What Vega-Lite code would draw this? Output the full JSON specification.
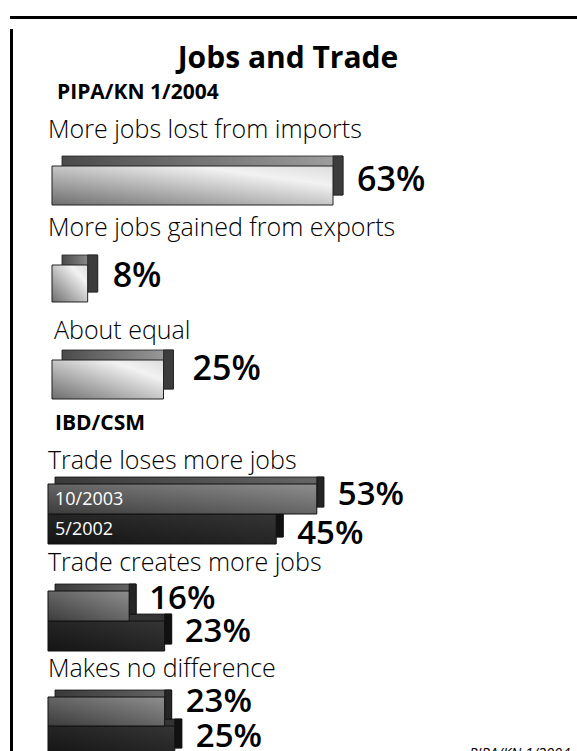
{
  "$schema": "https://vega.github.io/schema/vega-lite/v6.json",
  "padding": {"left": 10, "top": 11, "right": 0, "bottom": 0},
  "background": "white",
  "config": {"font": "Open Sans", "view": {"stroke": null}, "title": {"color": "black", "font": "Open Sans"}},
  "spacing": 0,
  "vconcat": [
    {
      "width": 567, "height": 3,
      "view": {"fill": "black", "stroke": null},
      "data": {"values": [{}]},
      "mark": {"type": "text"},
      "encoding": {"text": {"value": ""}}
    },
    {
      "spacing": 0,
      "hconcat": [
        {
          "width": 3, "height": 731,
          "view": {"fill": "black", "stroke": null},
          "data": {"values": [{}]},
          "mark": {"type": "text"},
          "encoding": {"text": {"value": ""}}
        },
        {
          "spacing": 8,
          "vconcat": [
            {
              "width": 530, "height": 0.1,
              "data": {"values": [{}]},
              "mark": {"type": "text"},
              "encoding": {"text": {"value": ""}}
            },
            {
              "title": {"text": "Jobs and Trade", "anchor": "middle", "fontSize": 30, "fontWeight": "bold", "dx": -7, "offset": 8},
              "spacing": 12,
              "vconcat": [
                {
                  "title": {"text": "PIPA/KN 1/2004", "anchor": "start", "fontSize": 21, "fontWeight": "bold", "dx": 44, "offset": 15},
                  "spacing": 9,
                  "vconcat": [
                    {
                      "title": {"text": "More jobs lost from imports", "anchor": "start", "fontSize": 25, "fontWeight": 300, "dx": 35, "offset": 13},
                      "width": 564, "height": 39,
                      "data": {"values": [{"series": "1/2004", "value": 63}]},
                      "encoding": {
                        "y": {"field": "series", "type": "nominal", "axis": null, "scale": {"paddingInner": 0, "paddingOuter": 0}},
                        "x": {"field": "value", "type": "quantitative", "axis": null, "scale": {"domain": [-8.74, 117.7]}}
                      },
                      "layer": [
                        {"mark": {"type": "bar", "xOffset": 10, "x2Offset": 10, "yOffset": -10, "y2Offset": -10, "stroke": "#222", "strokeWidth": 0.8, "color": {"gradient": "linear", "x1": 0, "y1": 0, "x2": 1, "y2": 0, "stops": [{"offset": 0, "color": "#4a4a4a"}, {"offset": 1, "color": "#a0a0a0"}]}}},
                        {"mark": {"type": "bar", "x2Offset": 10, "yOffset": -10, "y2Offset": -10, "color": "#3c3c3c", "stroke": "#222", "strokeWidth": 0.8}, "encoding": {"x2": {"field": "value"}}},
                        {"mark": {"type": "bar", "stroke": "#222", "strokeWidth": 1, "color": {"gradient": "linear", "x1": 0, "y1": 1, "x2": 1, "y2": 0, "stops": [{"offset": 0, "color": "#6e6e6e"}, {"offset": 0.75, "color": "#f2f2f2"}, {"offset": 1, "color": "#dcdcdc"}]}}},
                        {"mark": {"type": "text", "align": "left", "baseline": "middle", "dx": 24, "dy": -5, "fontSize": 34, "fontWeight": 600, "color": "black", "text": {"expr": "datum.value + '%'"}}}
                      ]
                    },
                    {
                      "title": {"text": "More jobs gained from exports", "anchor": "start", "fontSize": 25, "fontWeight": 300, "dx": 35, "offset": 14},
                      "width": 564, "height": 44,
                      "data": {"values": [{"series": "1/2004", "value": 8}]},
                      "encoding": {
                        "y": {"field": "series", "type": "nominal", "axis": null, "scale": {"paddingInner": 0, "paddingOuter": 0.0946, "align": 0}},
                        "x": {"field": "value", "type": "quantitative", "axis": null, "scale": {"domain": [-8.74, 117.7]}}
                      },
                      "layer": [
                        {"mark": {"type": "bar", "xOffset": 10, "x2Offset": 10, "yOffset": -10, "y2Offset": -10, "stroke": "#222", "strokeWidth": 0.8, "color": {"gradient": "linear", "x1": 0, "y1": 0, "x2": 1, "y2": 0, "stops": [{"offset": 0, "color": "#4a4a4a"}, {"offset": 1, "color": "#a0a0a0"}]}}},
                        {"mark": {"type": "bar", "x2Offset": 10, "yOffset": -10, "y2Offset": -10, "color": "#3c3c3c", "stroke": "#222", "strokeWidth": 0.8}, "encoding": {"x2": {"field": "value"}}},
                        {"mark": {"type": "bar", "stroke": "#222", "strokeWidth": 1, "color": {"gradient": "linear", "x1": 0, "y1": 1, "x2": 1, "y2": 0, "stops": [{"offset": 0, "color": "#6e6e6e"}, {"offset": 0.75, "color": "#f2f2f2"}, {"offset": 1, "color": "#dcdcdc"}]}}},
                        {"mark": {"type": "text", "align": "left", "baseline": "middle", "dx": 25, "dy": -6, "fontSize": 34, "fontWeight": 600, "color": "black", "text": {"expr": "datum.value + '%'"}}}
                      ]
                    },
                    {
                      "title": {"text": "About equal", "anchor": "start", "fontSize": 25, "fontWeight": 300, "dx": 41, "offset": 6},
                      "width": 564, "height": 39,
                      "data": {"values": [{"series": "1/2004", "value": 25}]},
                      "encoding": {
                        "y": {"field": "series", "type": "nominal", "axis": null, "scale": {"paddingInner": 0, "paddingOuter": 0}},
                        "x": {"field": "value", "type": "quantitative", "axis": null, "scale": {"domain": [-8.74, 117.7]}}
                      },
                      "layer": [
                        {"mark": {"type": "bar", "xOffset": 10, "x2Offset": 10, "yOffset": -10, "y2Offset": -10, "stroke": "#222", "strokeWidth": 0.8, "color": {"gradient": "linear", "x1": 0, "y1": 0, "x2": 1, "y2": 0, "stops": [{"offset": 0, "color": "#4a4a4a"}, {"offset": 1, "color": "#a0a0a0"}]}}},
                        {"mark": {"type": "bar", "x2Offset": 10, "yOffset": -10, "y2Offset": -10, "color": "#3c3c3c", "stroke": "#222", "strokeWidth": 0.8}, "encoding": {"x2": {"field": "value"}}},
                        {"mark": {"type": "bar", "stroke": "#222", "strokeWidth": 1, "color": {"gradient": "linear", "x1": 0, "y1": 1, "x2": 1, "y2": 0, "stops": [{"offset": 0, "color": "#6e6e6e"}, {"offset": 0.75, "color": "#f2f2f2"}, {"offset": 1, "color": "#dcdcdc"}]}}},
                        {"mark": {"type": "text", "align": "left", "baseline": "middle", "dx": 29, "dy": -10, "fontSize": 34, "fontWeight": 600, "color": "black", "text": {"expr": "datum.value + '%'"}}}
                      ]
                    }
                  ]
                },
                {
                  "title": {"text": "IBD/CSM", "anchor": "start", "fontSize": 21, "fontWeight": "bold", "dx": 42, "offset": 15},
                  "spacing": 0,
                  "vconcat": [
                    {
                      "title": {"text": "Trade loses more jobs", "anchor": "start", "fontSize": 25, "fontWeight": 300, "dx": 35, "offset": 3},
                      "width": 564, "height": 60,
                      "data": {"values": [{"series": "10/2003", "value": 53}, {"series": "5/2002", "value": 45}]},
                      "encoding": {
                        "y": {"field": "series", "type": "nominal", "axis": null, "sort": ["10/2003", "5/2002"], "scale": {"paddingInner": 0, "paddingOuter": 0}},
                        "x": {"field": "value", "type": "quantitative", "axis": null, "scale": {"domain": [-6.9, 104.3]}}
                      },
                      "layer": [
                        {"transform": [{"filter": "datum.series == '5/2002'"}], "mark": {"type": "bar", "xOffset": 7, "x2Offset": 7, "yOffset": -7, "y2Offset": -7, "stroke": "#111", "strokeWidth": 0.8, "color": "#333333"}},
                        {"transform": [{"filter": "datum.series == '5/2002'"}], "mark": {"type": "bar", "x2Offset": 7, "yOffset": -7, "y2Offset": -7, "color": "#111111", "stroke": "#111", "strokeWidth": 0.8}, "encoding": {"x2": {"field": "value"}}},
                        {"transform": [{"filter": "datum.series == '5/2002'"}], "mark": {"type": "bar", "stroke": "#111", "strokeWidth": 1, "color": {"gradient": "linear", "x1": 0, "y1": 1, "x2": 1, "y2": 0, "stops": [{"offset": 0, "color": "#141414"}, {"offset": 1, "color": "#353535"}]}}},
                        {"transform": [{"filter": "datum.series == '10/2003'"}], "mark": {"type": "bar", "xOffset": 7, "x2Offset": 7, "yOffset": -7, "y2Offset": -7, "stroke": "#111", "strokeWidth": 0.8, "color": {"gradient": "linear", "x1": 0, "y1": 0, "x2": 1, "y2": 0, "stops": [{"offset": 0, "color": "#3a3a3a"}, {"offset": 1, "color": "#666666"}]}}},
                        {"transform": [{"filter": "datum.series == '10/2003'"}], "mark": {"type": "bar", "x2Offset": 7, "yOffset": -7, "y2Offset": -7, "color": "#252525", "stroke": "#111", "strokeWidth": 0.8}, "encoding": {"x2": {"field": "value"}}},
                        {"transform": [{"filter": "datum.series == '10/2003'"}], "mark": {"type": "bar", "stroke": "#111", "strokeWidth": 1, "color": {"gradient": "linear", "x1": 0, "y1": 1, "x2": 1, "y2": 0, "stops": [{"offset": 0, "color": "#3c3c3c"}, {"offset": 1, "color": "#8e8e8e"}]}}},
                        {"mark": {"type": "text", "align": "left", "baseline": "middle", "dx": 21, "dy": {"expr": "datum.series == '10/2003' ? -4 : 5"}, "fontSize": 33, "fontWeight": 600, "color": "black", "text": {"expr": "datum.value + '%'"}}},
                        {"mark": {"type": "text", "align": "left", "baseline": "middle", "dx": 7, "dy": 1, "fontSize": 18, "color": "white"}, "encoding": {"x": {"datum": 0}, "text": {"field": "series"}}}
                      ]
                    },
                    {
                      "title": {"text": "Trade creates more jobs", "anchor": "start", "fontSize": 25, "fontWeight": 300, "dx": 35, "offset": 7},
                      "width": 564, "height": 65,
                      "data": {"values": [{"series": "10/2003", "value": 16}, {"series": "5/2002", "value": 23}]},
                      "encoding": {
                        "y": {"field": "series", "type": "nominal", "axis": null, "sort": ["10/2003", "5/2002"], "scale": {"paddingInner": 0, "paddingOuter": 0.0833, "align": 0}},
                        "x": {"field": "value", "type": "quantitative", "axis": null, "scale": {"domain": [-6.9, 104.3]}}
                      },
                      "layer": [
                        {"transform": [{"filter": "datum.series == '5/2002'"}], "mark": {"type": "bar", "xOffset": 7, "x2Offset": 7, "yOffset": -7, "y2Offset": -7, "stroke": "#111", "strokeWidth": 0.8, "color": "#333333"}},
                        {"transform": [{"filter": "datum.series == '5/2002'"}], "mark": {"type": "bar", "x2Offset": 7, "yOffset": -7, "y2Offset": -7, "color": "#111111", "stroke": "#111", "strokeWidth": 0.8}, "encoding": {"x2": {"field": "value"}}},
                        {"transform": [{"filter": "datum.series == '5/2002'"}], "mark": {"type": "bar", "stroke": "#111", "strokeWidth": 1, "color": {"gradient": "linear", "x1": 0, "y1": 1, "x2": 1, "y2": 0, "stops": [{"offset": 0, "color": "#141414"}, {"offset": 1, "color": "#353535"}]}}},
                        {"transform": [{"filter": "datum.series == '10/2003'"}], "mark": {"type": "bar", "xOffset": 7, "x2Offset": 7, "yOffset": -7, "y2Offset": -7, "stroke": "#111", "strokeWidth": 0.8, "color": {"gradient": "linear", "x1": 0, "y1": 0, "x2": 1, "y2": 0, "stops": [{"offset": 0, "color": "#3a3a3a"}, {"offset": 1, "color": "#666666"}]}}},
                        {"transform": [{"filter": "datum.series == '10/2003'"}], "mark": {"type": "bar", "x2Offset": 7, "yOffset": -7, "y2Offset": -7, "color": "#252525", "stroke": "#111", "strokeWidth": 0.8}, "encoding": {"x2": {"field": "value"}}},
                        {"transform": [{"filter": "datum.series == '10/2003'"}], "mark": {"type": "bar", "stroke": "#111", "strokeWidth": 1, "color": {"gradient": "linear", "x1": 0, "y1": 1, "x2": 1, "y2": 0, "stops": [{"offset": 0, "color": "#3c3c3c"}, {"offset": 1, "color": "#8e8e8e"}]}}},
                        {"mark": {"type": "text", "align": "left", "baseline": "middle", "dx": 20, "dy": {"expr": "datum.series == '10/2003' ? -7 : -4"}, "fontSize": 33, "fontWeight": 600, "color": "black", "text": {"expr": "datum.value + '%'"}}}
                      ]
                    },
                    {
                      "title": {"text": "Makes no difference", "anchor": "start", "fontSize": 25, "fontWeight": 300, "dx": 35, "offset": 4},
                      "width": 564, "height": 58,
                      "data": {"values": [{"series": "10/2003", "value": 23}, {"series": "5/2002", "value": 25}]},
                      "encoding": {
                        "y": {"field": "series", "type": "nominal", "axis": null, "sort": ["10/2003", "5/2002"], "scale": {"paddingInner": 0, "paddingOuter": 0}},
                        "x": {"field": "value", "type": "quantitative", "axis": null, "scale": {"domain": [-6.9, 104.3]}}
                      },
                      "layer": [
                        {"transform": [{"filter": "datum.series == '5/2002'"}], "mark": {"type": "bar", "xOffset": 7, "x2Offset": 7, "yOffset": -7, "y2Offset": -7, "stroke": "#111", "strokeWidth": 0.8, "color": "#333333"}},
                        {"transform": [{"filter": "datum.series == '5/2002'"}], "mark": {"type": "bar", "x2Offset": 7, "yOffset": -7, "y2Offset": -7, "color": "#111111", "stroke": "#111", "strokeWidth": 0.8}, "encoding": {"x2": {"field": "value"}}},
                        {"transform": [{"filter": "datum.series == '5/2002'"}], "mark": {"type": "bar", "stroke": "#111", "strokeWidth": 1, "color": {"gradient": "linear", "x1": 0, "y1": 1, "x2": 1, "y2": 0, "stops": [{"offset": 0, "color": "#141414"}, {"offset": 1, "color": "#353535"}]}}},
                        {"transform": [{"filter": "datum.series == '10/2003'"}], "mark": {"type": "bar", "xOffset": 7, "x2Offset": 7, "yOffset": -7, "y2Offset": -7, "stroke": "#111", "strokeWidth": 0.8, "color": {"gradient": "linear", "x1": 0, "y1": 0, "x2": 1, "y2": 0, "stops": [{"offset": 0, "color": "#3a3a3a"}, {"offset": 1, "color": "#666666"}]}}},
                        {"transform": [{"filter": "datum.series == '10/2003'"}], "mark": {"type": "bar", "x2Offset": 7, "yOffset": -7, "y2Offset": -7, "color": "#252525", "stroke": "#111", "strokeWidth": 0.8}, "encoding": {"x2": {"field": "value"}}},
                        {"transform": [{"filter": "datum.series == '10/2003'"}], "mark": {"type": "bar", "stroke": "#111", "strokeWidth": 1, "color": {"gradient": "linear", "x1": 0, "y1": 1, "x2": 1, "y2": 0, "stops": [{"offset": 0, "color": "#3c3c3c"}, {"offset": 1, "color": "#8e8e8e"}]}}},
                        {"mark": {"type": "text", "align": "left", "baseline": "middle", "dx": 21, "dy": {"expr": "datum.series == '10/2003' ? -10 : -4"}, "fontSize": 33, "fontWeight": 600, "color": "black", "text": {"expr": "datum.value + '%'"}}},
                        {"data": {"values": [{"note": "PIPA/KN 1/2004"}]}, "mark": {"type": "text", "align": "right", "baseline": "bottom", "dx": -7, "dy": 6, "fontSize": 14.5, "fontStyle": "italic", "color": "black"}, "encoding": {"x": {"value": "width"}, "y": {"value": "height"}, "text": {"field": "note"}}}
                      ]
                    }
                  ]
                }
              ]
            }
          ]
        }
      ]
    }
  ]
}
